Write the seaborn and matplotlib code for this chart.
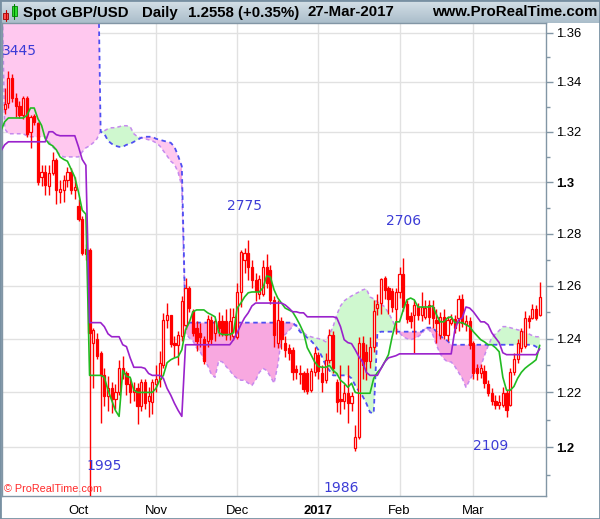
import numpy as np
import pandas as pd
import matplotlib
matplotlib.use('Agg')
import matplotlib.pyplot as plt
import seaborn as sns
from matplotlib.ticker import FixedLocator, NullFormatter
from matplotlib.patches import Rectangle
from matplotlib.lines import Line2D

sns.set_style('white')
plt.rcParams['font.family'] = ['Liberation Sans', 'DejaVu Sans']

# ---------------- data ----------------
dates = pd.bdate_range('2016-09-05', '2017-03-27')

opens = [1.3290, 1.3317, 1.3415, 1.3335, 1.3305, 1.3265, 1.3335, 1.3200, 1.3262, 1.3235,
         1.3021, 1.3041, 1.2985, 1.3035, 1.3088, 1.2960, 1.2968, 1.3010, 1.3041, 1.2968,
         1.2907, 1.2855, 1.2722, 1.2735, 1.2383, 1.2400, 1.2345, 1.2265, 1.2185, 1.2215,
         1.2175, 1.2200, 1.2290, 1.2270, 1.2230, 1.2200, 1.2215, 1.2150, 1.2240, 1.2170,
         1.2165, 1.2230, 1.2250, 1.2300, 1.2470, 1.2490, 1.2385, 1.2375, 1.2410, 1.2450,
         1.2590, 1.2505, 1.2440, 1.2420, 1.2400, 1.2390, 1.2470, 1.2420, 1.2465, 1.2465,
         1.2465, 1.2420, 1.2410, 1.2407, 1.2577, 1.2700, 1.2725, 1.2670, 1.2620, 1.2570,
         1.2570, 1.2670, 1.2660, 1.2545, 1.2385, 1.2465, 1.2385, 1.2365, 1.2357, 1.2285,
         1.2272, 1.2270, 1.2270, 1.2210, 1.2275, 1.2340, 1.2270, 1.2245, 1.2320, 1.2415,
         1.2240, 1.2175, 1.2168, 1.2198, 1.2160, 1.1998, 1.2035, 1.2382, 1.2350, 1.2315,
         1.2370, 1.2515, 1.2533, 1.2628, 1.2590, 1.2580, 1.2510, 1.2575, 1.2645, 1.2530,
         1.2485, 1.2488, 1.2520, 1.2488, 1.2480, 1.2525, 1.2518, 1.2470, 1.2415, 1.2480,
         1.2415, 1.2458, 1.2475, 1.2478, 1.2550, 1.2455, 1.2465, 1.2383, 1.2290, 1.2270,
         1.2280, 1.2230, 1.2198, 1.2170, 1.2155, 1.2155, 1.2198, 1.2155, 1.2275, 1.2325,
         1.2365, 1.2372, 1.2478, 1.2478, 1.2510, 1.2488]
highs = [1.3375, 1.3445, 1.3432, 1.3355, 1.3325, 1.3345, 1.3345, 1.3265, 1.3270, 1.3240,
         1.3068, 1.3068, 1.3068, 1.3120, 1.3095, 1.3010, 1.3028, 1.3061, 1.3055, 1.3021,
         1.2935, 1.2870, 1.2760, 1.2745, 1.2438, 1.2420, 1.2352, 1.2290, 1.2260, 1.2240,
         1.2230, 1.2320, 1.2335, 1.2280, 1.2255, 1.2240, 1.2235, 1.2250, 1.2250, 1.2220,
         1.2250, 1.2300, 1.2355, 1.2495, 1.2535, 1.2490, 1.2410, 1.2430, 1.2560, 1.2628,
         1.2600, 1.2510, 1.2465, 1.2460, 1.2410, 1.2490, 1.2485, 1.2475, 1.2500, 1.2490,
         1.2510, 1.2515, 1.2515, 1.2610, 1.2737, 1.2745, 1.2776, 1.2700, 1.2650, 1.2640,
         1.2700, 1.2722, 1.2680, 1.2560, 1.2545, 1.2480, 1.2410, 1.2380, 1.2370, 1.2300,
         1.2300, 1.2280, 1.2290, 1.2290, 1.2370, 1.2350, 1.2300, 1.2345, 1.2435, 1.2430,
         1.2250, 1.2300, 1.2230, 1.2303, 1.2200, 1.2080, 1.2407, 1.2410, 1.2380, 1.2407,
         1.2545, 1.2570, 1.2630, 1.2635, 1.2600, 1.2590, 1.2590, 1.2673, 1.2706, 1.2545,
         1.2500, 1.2545, 1.2535, 1.2575, 1.2545, 1.2545, 1.2545, 1.2510, 1.2500, 1.2510,
         1.2485, 1.2492, 1.2490, 1.2563, 1.2570, 1.2490, 1.2480, 1.2390, 1.2305, 1.2305,
         1.2300, 1.2245, 1.2215, 1.2190, 1.2190, 1.2220, 1.2210, 1.2290, 1.2345, 1.2400,
         1.2440, 1.2505, 1.2490, 1.2530, 1.2525, 1.2615]
lows = [1.3270, 1.3297, 1.3320, 1.3260, 1.3255, 1.3250, 1.3180, 1.3135, 1.3225, 1.2990,
        1.2987, 1.2950, 1.2950, 1.3030, 1.2915, 1.2920, 1.2924, 1.2980, 1.2955, 1.2935,
        1.2850, 1.2717, 1.2700, 1.1505, 1.2215, 1.2325, 1.2086, 1.2150, 1.2130, 1.2125,
        1.2140, 1.2190, 1.2250, 1.2190, 1.2160, 1.2170, 1.2085, 1.2130, 1.2140, 1.2110,
        1.2120, 1.2200, 1.2220, 1.2290, 1.2440, 1.2370, 1.2330, 1.2300, 1.2390, 1.2435,
        1.2500, 1.2410, 1.2355, 1.2370, 1.2305, 1.2370, 1.2380, 1.2390, 1.2410, 1.2410,
        1.2395, 1.2395, 1.2395, 1.2400, 1.2520, 1.2650, 1.2620, 1.2590, 1.2540, 1.2550,
        1.2560, 1.2590, 1.2530, 1.2370, 1.2365, 1.2360, 1.2330, 1.2320, 1.2245, 1.2250,
        1.2230, 1.2200, 1.2195, 1.2200, 1.2260, 1.2250, 1.2200, 1.2235, 1.2310, 1.2270,
        1.2128, 1.2122, 1.2140, 1.2087, 1.2130, 1.1986, 1.2030, 1.2250, 1.2245, 1.2290,
        1.2350, 1.2490, 1.2493, 1.2550, 1.2493, 1.2500, 1.2418, 1.2555, 1.2505, 1.2460,
        1.2440, 1.2347, 1.2470, 1.2465, 1.2475, 1.2455, 1.2440, 1.2383, 1.2400, 1.2398,
        1.2390, 1.2450, 1.2420, 1.2428, 1.2445, 1.2430, 1.2360, 1.2250, 1.2245, 1.2255,
        1.2215, 1.2185, 1.2155, 1.2140, 1.2140, 1.2145, 1.2109, 1.2150, 1.2265, 1.2310,
        1.2350, 1.2365, 1.2440, 1.2475, 1.2470, 1.2485]
closes = [1.3310, 1.3415, 1.3335, 1.3305, 1.3265, 1.3335, 1.3190, 1.3260, 1.3240, 1.3000,
          1.3041, 1.2988, 1.3035, 1.3088, 1.2968, 1.2975, 1.3010, 1.3041, 1.2968, 1.2980,
          1.2855, 1.2726, 1.2742, 1.2420, 1.2434, 1.2335, 1.2265, 1.2185, 1.2215, 1.2175,
          1.2200, 1.2290, 1.2270, 1.2230, 1.2200, 1.2210, 1.2150, 1.2240, 1.2160, 1.2185,
          1.2240, 1.2250, 1.2310, 1.2470, 1.2490, 1.2380, 1.2375, 1.2415, 1.2540, 1.2592,
          1.2515, 1.2420, 1.2390, 1.2405, 1.2318, 1.2475, 1.2400, 1.2465, 1.2440, 1.2420,
          1.2415, 1.2465, 1.2480, 1.2577, 1.2730, 1.2725, 1.2670, 1.2620, 1.2578, 1.2625,
          1.2670, 1.2610, 1.2545, 1.2415, 1.2470, 1.2400, 1.2357, 1.2345, 1.2275, 1.2275,
          1.2268, 1.2212, 1.2205, 1.2280, 1.2345, 1.2280, 1.2240, 1.2320, 1.2415, 1.2290,
          1.2165, 1.2168, 1.2198, 1.2160, 1.2188, 1.2035, 1.2382, 1.2300, 1.2315, 1.2370,
          1.2505, 1.2530, 1.2625, 1.2585, 1.2550, 1.2520, 1.2575, 1.2645, 1.2520, 1.2475,
          1.2465, 1.2525, 1.2488, 1.2520, 1.2515, 1.2480, 1.2478, 1.2460, 1.2480, 1.2415,
          1.2470, 1.2475, 1.2440, 1.2550, 1.2460, 1.2468, 1.2375, 1.2270, 1.2270, 1.2290,
          1.2235, 1.2198, 1.2170, 1.2153, 1.2165, 1.2198, 1.2135, 1.2275, 1.2325, 1.2385,
          1.2428, 1.2478, 1.2465, 1.2512, 1.2478, 1.2558]

# indicator lines: one value per session, starting one session before the first candle
tenkan = [1.3205, 1.3240, 1.3255, 1.3255, 1.3255, 1.3255, 1.3255, 1.3265, 1.3295, 1.3295,
          1.3252, 1.3225, 1.3172, 1.3152, 1.3144, 1.3128, 1.3100, 1.3090, 1.3083, 1.3051,
          1.3020, 1.2961, 1.2891, 1.2875, 1.2263, 1.2263, 1.2263, 1.2263, 1.2256, 1.2208,
          1.2171, 1.2134, 1.2112, 1.2281, 1.2259, 1.2256, 1.2208, 1.2200, 1.2200, 1.2200,
          1.2200, 1.2200, 1.2215, 1.2245, 1.2263, 1.2310, 1.2321, 1.2328, 1.2332, 1.2358,
          1.2433, 1.2460, 1.2501, 1.2508, 1.2508, 1.2508, 1.2497, 1.2490, 1.2482, 1.2422,
          1.2415, 1.2415, 1.2415, 1.2422, 1.2515, 1.2534, 1.2557, 1.2573, 1.2576, 1.2576,
          1.2576, 1.2592, 1.2637, 1.2633, 1.2584, 1.2553, 1.2534, 1.2515, 1.2508, 1.2501,
          1.2478, 1.2452, 1.2422, 1.2366, 1.2340, 1.2313, 1.2296, 1.2293, 1.2293, 1.2300,
          1.2281, 1.2270, 1.2245, 1.2234, 1.2219, 1.2234, 1.2200, 1.2197, 1.2197, 1.2197,
          1.2197, 1.2252, 1.2274, 1.2289, 1.2313, 1.2340, 1.2407, 1.2463, 1.2463, 1.2508,
          1.2546, 1.2553, 1.2546, 1.2519, 1.2519, 1.2519, 1.2519, 1.2523, 1.2490, 1.2463,
          1.2463, 1.2478, 1.2482, 1.2460, 1.2460, 1.2460, 1.2452, 1.2445, 1.2426, 1.2411,
          1.2396, 1.2388, 1.2377, 1.2377, 1.2366, 1.2351, 1.2256, 1.2208, 1.2208, 1.2222,
          1.2252, 1.2274, 1.2289, 1.2300, 1.2310, 1.2321, 1.2375]
kijun = [1.3124, 1.3148, 1.3160, 1.3160, 1.3160, 1.3160, 1.3160, 1.3160, 1.3160, 1.3160,
         1.3160, 1.3160, 1.3160, 1.3200, 1.3200, 1.3188, 1.3184, 1.3184, 1.3184, 1.3184,
         1.3184, 1.3140, 1.3090, 1.3067, 1.2460, 1.2460, 1.2460, 1.2460, 1.2445, 1.2418,
         1.2407, 1.2407, 1.2407, 1.2377, 1.2370, 1.2328, 1.2293, 1.2293, 1.2293, 1.2289,
         1.2270, 1.2263, 1.2263, 1.2263, 1.2252, 1.2215, 1.2190, 1.2160, 1.2134, 1.2112,
         1.2377, 1.2377, 1.2377, 1.2377, 1.2377, 1.2377, 1.2377, 1.2377, 1.2377, 1.2377,
         1.2377, 1.2377, 1.2377, 1.2396, 1.2422, 1.2452, 1.2478, 1.2497, 1.2523, 1.2534,
         1.2534, 1.2534, 1.2534, 1.2534, 1.2534, 1.2534, 1.2534, 1.2527, 1.2515, 1.2501,
         1.2501, 1.2497, 1.2497, 1.2482, 1.2482, 1.2482, 1.2482, 1.2482, 1.2482, 1.2482,
         1.2482, 1.2478, 1.2445, 1.2396, 1.2385, 1.2381, 1.2358, 1.2332, 1.2313, 1.2274,
         1.2263, 1.2263, 1.2263, 1.2289, 1.2313, 1.2328, 1.2332, 1.2336, 1.2343, 1.2343,
         1.2343, 1.2343, 1.2343, 1.2343, 1.2343, 1.2343, 1.2343, 1.2343, 1.2343, 1.2343,
         1.2343, 1.2343, 1.2343, 1.2433, 1.2471, 1.2478, 1.2519, 1.2515, 1.2501, 1.2482,
         1.2463, 1.2463, 1.2452, 1.2422, 1.2403, 1.2385, 1.2347, 1.2340, 1.2340, 1.2340,
         1.2340, 1.2340, 1.2340, 1.2340, 1.2340, 1.2340, 1.2362]
span_a = [1.4000, 1.3212, 1.3192, 1.3192, 1.3192, 1.3192, 1.3192, 1.3184, 1.3180, 1.3180,
          1.3180, 1.3180, 1.3180, 1.3160, 1.3140, 1.3124, 1.3108, 1.3100, 1.3100, 1.3100,
          1.3100, 1.3100, 1.3120, 1.3136, 1.3144, 1.3156, 1.3172, 1.3203, 1.3204, 1.3212,
          1.3216, 1.3216, 1.3220, 1.3224, 1.3224, 1.3220, 1.3192, 1.3180, 1.3176, 1.3172,
          1.3168, 1.3164, 1.3156, 1.3144, 1.3124, 1.3104, 1.3083, 1.3071, 1.3039, 1.2984,
          1.2422, 1.2403, 1.2392, 1.2366, 1.2351, 1.2321, 1.2300, 1.2267, 1.2256, 1.2317,
          1.2313, 1.2296, 1.2281, 1.2263, 1.2252, 1.2245, 1.2245, 1.2234, 1.2226, 1.2245,
          1.2274, 1.2289, 1.2281, 1.2259, 1.2234, 1.2300, 1.2403, 1.2415, 1.2430, 1.2445,
          1.2452, 1.2433, 1.2422, 1.2411, 1.2407, 1.2403, 1.2400, 1.2396, 1.2388, 1.2415,
          1.2445, 1.2490, 1.2523, 1.2542, 1.2553, 1.2561, 1.2569, 1.2576, 1.2584, 1.2588,
          1.2557, 1.2550, 1.2538, 1.2531, 1.2519, 1.2497, 1.2471, 1.2441, 1.2422, 1.2407,
          1.2400, 1.2396, 1.2400, 1.2407, 1.2418, 1.2437, 1.2433, 1.2415, 1.2377, 1.2343,
          1.2325, 1.2313, 1.2313, 1.2296, 1.2274, 1.2252, 1.2219, 1.2245, 1.2270, 1.2285,
          1.2296, 1.2336, 1.2373, 1.2403, 1.2418, 1.2430, 1.2445, 1.2445, 1.2441, 1.2437,
          1.2433, 1.2430, 1.2422, 1.2418, 1.2411, 1.2407, 1.2407]
span_b = [1.4200, 1.4200, 1.4200, 1.4200, 1.4200, 1.4200, 1.4200, 1.4200, 1.4200, 1.4200,
          1.4200, 1.4200, 1.4200, 1.4200, 1.4200, 1.4200, 1.4200, 1.4200, 1.4200, 1.4200,
          1.4200, 1.4200, 1.4200, 1.4200, 1.4200, 1.4200, 1.4200, 1.3200, 1.3192, 1.3164,
          1.3152, 1.3144, 1.3140, 1.3140, 1.3148, 1.3152, 1.3160, 1.3168, 1.3176, 1.3180,
          1.3180, 1.3180, 1.3172, 1.3168, 1.3164, 1.3160, 1.3156, 1.3140, 1.3104, 1.3063,
          1.2460, 1.2460, 1.2460, 1.2460, 1.2460, 1.2460, 1.2460, 1.2460, 1.2460, 1.2460,
          1.2460, 1.2460, 1.2460, 1.2460, 1.2460, 1.2460, 1.2460, 1.2460, 1.2460, 1.2460,
          1.2460, 1.2460, 1.2460, 1.2460, 1.2460, 1.2460, 1.2460, 1.2460, 1.2460, 1.2460,
          1.2448, 1.2426, 1.2415, 1.2403, 1.2392, 1.2377, 1.2358, 1.2332, 1.2300, 1.2281,
          1.2263, 1.2263, 1.2263, 1.2263, 1.2263, 1.2252, 1.2226, 1.2204, 1.2186, 1.2160,
          1.2127, 1.2123, 1.2422, 1.2426, 1.2426, 1.2426, 1.2426, 1.2426, 1.2426, 1.2426,
          1.2426, 1.2426, 1.2426, 1.2426, 1.2426, 1.2441, 1.2441, 1.2441, 1.2426, 1.2411,
          1.2400, 1.2392, 1.2377, 1.2377, 1.2377, 1.2377, 1.2377, 1.2377, 1.2377, 1.2377,
          1.2377, 1.2377, 1.2377, 1.2377, 1.2377, 1.2377, 1.2377, 1.2377, 1.2377, 1.2377,
          1.2377, 1.2377, 1.2377, 1.2377, 1.2377, 1.2370, 1.2358]

month_labels = ['Oct', 'Nov', 'Dec', '2017', 'Feb', 'Mar']
y_ticks = [1.20, 1.22, 1.24, 1.26, 1.28, 1.30, 1.32, 1.34, 1.36]
y_tick_labels = ['1.2', '1.22', '1.24', '1.26', '1.28', '1.3', '1.32', '1.34', '1.36']
y_minor = [1.19, 1.21, 1.23, 1.25, 1.27, 1.29, 1.31, 1.33, 1.35]
swing_labels = ['3445', '1995', '2775', '1986', '2706', '2109']
swing_pos = [(3.9, 1.3526), (26.9, 1.1930), (64.9, 1.2906), (91.1, 1.1854), (108.2, 1.2848), (131.8, 1.2003)]

# ---------------- figure ----------------
W, H = 600, 519
fig = plt.figure(figsize=(W / 100, H / 100), dpi=100)
fig.patch.set_facecolor('white')

# header bar
tax = fig.add_axes([0, 1 - 23 / H, 1, 23 / H])
g = np.linspace(0, 1, 60).reshape(-1, 1)
top = np.array([214, 225, 232]) / 255
bot = np.array([170, 189, 202]) / 255
img = (top + (bot - top) * g)[:, None, :] * np.ones((1, 2, 1))
tax.imshow(img, aspect='auto', extent=[0, W, 23, 0], interpolation='bilinear')
tax.set_xlim(0, W)
tax.set_ylim(23, 0)
tax.axis('off')
# candle icon
tax.add_line(Line2D([5.5, 5.5], [10, 21], color='#c00000', lw=0.8))
tax.add_patch(Rectangle((3, 12.5), 5, 6.5, facecolor='#ff5050', edgecolor='#a00000', lw=0.6))
tax.add_line(Line2D([14, 14], [4, 19], color='#008000', lw=0.8))
tax.add_patch(Rectangle((11.5, 6), 5, 10, facecolor='#30e030', edgecolor='#008000', lw=0.6))
hdr = dict(fontsize=10.8, fontweight='bold', color='black', va='center')
tax.text(23, 12.5, 'Spot GBP/USD', ha='left', **hdr)
tax.text(142, 12.5, 'Daily', ha='left', **hdr)
tax.text(188, 12.5, '1.2558 (+0.35%)', ha='left', **hdr)
tax.text(308, 12.5, '27-Mar-2017', ha='left', **hdr)
tax.text(597, 12.5, 'www.ProRealTime.com', ha='right', **hdr)

# main chart
ax = fig.add_axes([1.5 / W, 1 - 496 / H, (546 - 1.5) / W, (496 - 23) / H])
ax.set_facecolor('white')
ax.set_yscale('log')

idx = np.arange(len(dates))
lx = np.arange(-1, len(dates))
o = np.array(opens); h = np.array(highs); l = np.array(lows); c = np.array(closes)
A = np.array(span_a); B = np.array(span_b)

# cloud
light = (lx <= 48)
ax.fill_between(lx, A, B, where=(A >= B), interpolate=True, color='#cff8cf', lw=0, zorder=1)
ax.fill_between(lx, A, B, where=(B >= A) & light, interpolate=True, color='#ffc8ef', lw=0, zorder=1)
ax.fill_between(lx, A, B, where=(B >= A) & (lx >= 48), interpolate=True, color='#f8a8e0', lw=0, zorder=1)
sns.lineplot(x=lx, y=A, ax=ax, color='#c68aee', lw=1.1, linestyle=(0, (2.5, 2)), estimator=None, sort=False, zorder=2)
sns.lineplot(x=lx, y=B, ax=ax, color='#4f4ff2', lw=1.3, linestyle=(0, (2.5, 2)), estimator=None, sort=False, zorder=2)

# candles
up = c >= o
ax.vlines(idx, l, h, color='#ff0000', lw=1.0, zorder=3)
ax.bar(idx[up], (c - o)[up], bottom=o[up], width=0.6, facecolor='white', edgecolor='#ff0000', lw=0.9, zorder=4)
ax.bar(idx[~up], (o - c)[~up], bottom=c[~up], width=0.6, facecolor='#ff0000', edgecolor='#ff0000', lw=0.9, zorder=4)

# tenkan / kijun
sns.lineplot(x=lx, y=tenkan, ax=ax, color='#22bb22', lw=1.2, estimator=None, sort=False, zorder=5)
sns.lineplot(x=lx, y=kijun, ax=ax, color='#9a22cc', lw=1.2, estimator=None, sort=False, zorder=5)

# swing labels
for t, (xi, yv) in zip(swing_labels, swing_pos):
    ax.text(xi, yv, t, ha='center', va='center', fontsize=10, color='#3c3cd6',
            family=['DejaVu Sans'], zorder=6)
ax.text(3 / 544.5, (496 - 489) / 473, '\u00a9 ProRealTime.com', transform=ax.transAxes,
        ha='left', va='center', fontsize=7.8, color='#ff2a2a', zorder=6)

# axes
ax.set_xlim((1.5 - 4.7) / 3.69, (546 - 4.7) / 3.69)
ax.set_ylim(1.1824, 1.3641)
ax.set_xlabel('')
ax.set_ylabel('')

month_pos = [i for i in range(1, len(dates)) if dates[i].month != dates[i - 1].month]
ax.xaxis.set_major_locator(FixedLocator(month_pos))
ax.set_xticklabels(month_labels)
ax.yaxis.tick_right()
ax.yaxis.set_major_locator(FixedLocator(y_ticks))
ax.yaxis.set_minor_locator(FixedLocator(y_minor))
ax.yaxis.set_minor_formatter(NullFormatter())
ax.set_yticklabels(y_tick_labels)

spc = '#8296a5'
for s in ax.spines.values():
    s.set_color(spc)
    s.set_linewidth(1.0)
ax.tick_params(axis='y', which='major', direction='out', length=5, width=1, color=spc,
               pad=2, labelsize=9.4, labelcolor='black')
ax.tick_params(axis='y', which='minor', direction='out', length=3, width=1, color=spc)
ax.tick_params(axis='x', which='major', direction='out', length=5, width=1, color=spc,
               pad=1.5, labelsize=9.4, labelcolor='black')
for lab in ax.get_yticklabels():
    if lab.get_text() in ('1.3', '1.2'):
        lab.set_fontweight('bold')
for lab in ax.get_xticklabels():
    if lab.get_text() == '2017':
        lab.set_fontweight('bold')

ax.grid(True, which='major', axis='both', color='#e1e1e1', lw=1.0)
ax.set_axisbelow(True)

# outer frame
fig.patches.append(Rectangle((0, 0), 1, 1, transform=fig.transFigure, fill=False,
                             edgecolor='#7890a2', lw=2.0))

fig.savefig('out.png', dpi=100)
